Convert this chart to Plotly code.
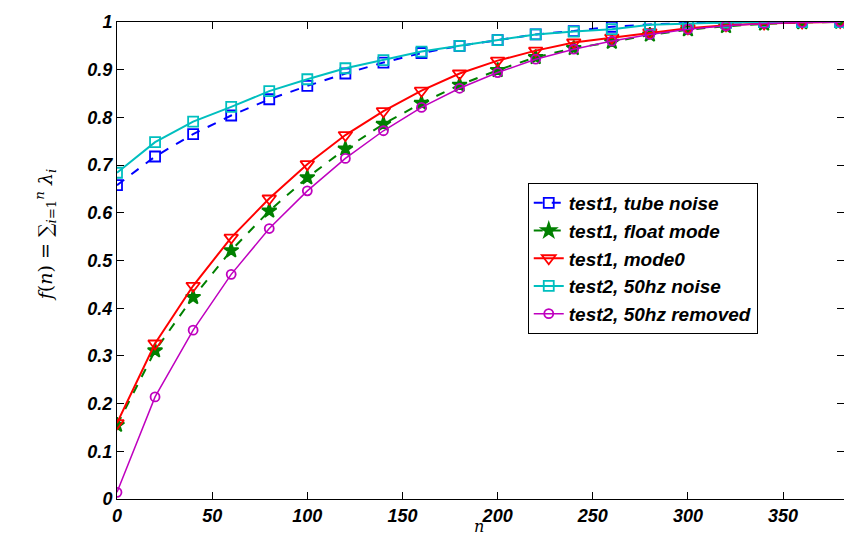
import plotly.graph_objects as go

n = [0, 20, 40, 60, 80, 100, 120, 140, 160, 180, 200, 220, 240, 260, 280, 300, 320, 340, 360, 380]

tube_noise = [0.658, 0.718, 0.765, 0.804, 0.838, 0.866, 0.892, 0.915, 0.935, 0.950, 0.962, 0.974, 0.981, 0.990, 0.995, 0.998, 0.999, 1.0, 1.0, 1.0]
float_mode = [0.155, 0.311, 0.423, 0.521, 0.604, 0.674, 0.734, 0.786, 0.830, 0.868, 0.899, 0.926, 0.945, 0.958, 0.973, 0.984, 0.991, 0.996, 0.999, 1.0]
mode0 = [0.159, 0.326, 0.447, 0.548, 0.630, 0.702, 0.763, 0.813, 0.856, 0.892, 0.919, 0.940, 0.957, 0.967, 0.978, 0.987, 0.993, 0.997, 0.999, 1.0]
noise_50hz = [0.684, 0.748, 0.791, 0.822, 0.855, 0.880, 0.903, 0.920, 0.938, 0.950, 0.962, 0.974, 0.980, 0.985, 0.994, 0.997, 0.999, 1.0, 1.0, 1.0]
removed_50hz = [0.014, 0.214, 0.354, 0.471, 0.567, 0.646, 0.714, 0.772, 0.821, 0.861, 0.894, 0.922, 0.943, 0.960, 0.974, 0.985, 0.992, 0.997, 0.999, 1.0]

names = ["test1, tube noise", "test1, float mode", "test1, mode0", "test2, 50hz noise", "test2, 50hz removed"]
series = [tube_noise, float_mode, mode0, noise_50hz, removed_50hz]
colors = ["#0000FF", "#008000", "#FF0000", "#00BFBF", "#BF00BF"]
dashes = ["dash", "dash", "solid", "solid", "solid"]
symbols = ["square-open", "star", "triangle-down-open", "square-open", "circle-open"]
msizes = [10, 11, 12, 10, 9]
lwidths = [2, 2, 2, 2, 1.5]

x_ticks = [0, 50, 100, 150, 200, 250, 300, 350]
y_ticks = [0, 0.1, 0.2, 0.3, 0.4, 0.5, 0.6, 0.7, 0.8, 0.9, 1]
y_tick_labels = ["0", "0.1", "0.2", "0.3", "0.4", "0.5", "0.6", "0.7", "0.8", "0.9", "1"]

fig = go.Figure()
for name, ys, c, d, s, ms, lw in zip(names, series, colors, dashes, symbols, msizes, lwidths):
    fig.add_trace(go.Scatter(
        x=n, y=ys, name=name, mode="lines+markers",
        line=dict(color=c, width=lw, dash=d),
        marker=dict(symbol=s, size=ms, color=c, line=dict(color=c, width=1.8)),
    ))

tickfont = dict(family="Liberation Sans, Arial", size=18, color="black", weight="bold", style="italic")

fig.update_layout(
    width=844, height=539,
    margin=dict(l=117, r=0, t=22, b=40),
    plot_bgcolor="white", paper_bgcolor="white",
    showlegend=True,
    legend=dict(
        x=0.565, y=0.6625, xanchor="left", yanchor="top",
        bgcolor="white", bordercolor="black", borderwidth=1,
        entrywidth=205, entrywidthmode="pixels",
        font=dict(family="Liberation Sans, Arial", size=19, color="black", weight="bold", style="italic"),
    ),
    xaxis=dict(
        range=[0, 382], tickvals=x_ticks, ticks="inside", ticklen=7, tickcolor="black",
        showline=True, linecolor="black", linewidth=1, mirror="ticks",
        showgrid=False, zeroline=False, tickfont=tickfont,
    ),
    yaxis=dict(
        range=[0, 1], tickvals=y_ticks, ticktext=y_tick_labels, ticks="inside", ticklen=7, tickcolor="black",
        showline=True, linecolor="black", linewidth=1, mirror="ticks",
        showgrid=False, zeroline=False, tickfont=tickfont,
    ),
    annotations=[
        dict(
            text="<i>f</i>(<i>n</i>) = ∑<sub><i>i</i>=1</sub><sup><i>n</i></sup> <i>λ<sub>i</sub></i>",
            xref="paper", yref="paper", x=-0.099, y=0.553, xanchor="center", yanchor="middle",
            textangle=-90, showarrow=False,
            font=dict(family="DejaVu Serif", size=19, color="black"),
        ),
        dict(
            text="<i>n</i>", xref="paper", yref="paper", x=0.498, y=-0.0818,
            xanchor="center", yanchor="bottom", showarrow=False,
            font=dict(family="DejaVu Serif", size=16, color="black"),
        ),
    ],
)

fig.write_html("out.html")
